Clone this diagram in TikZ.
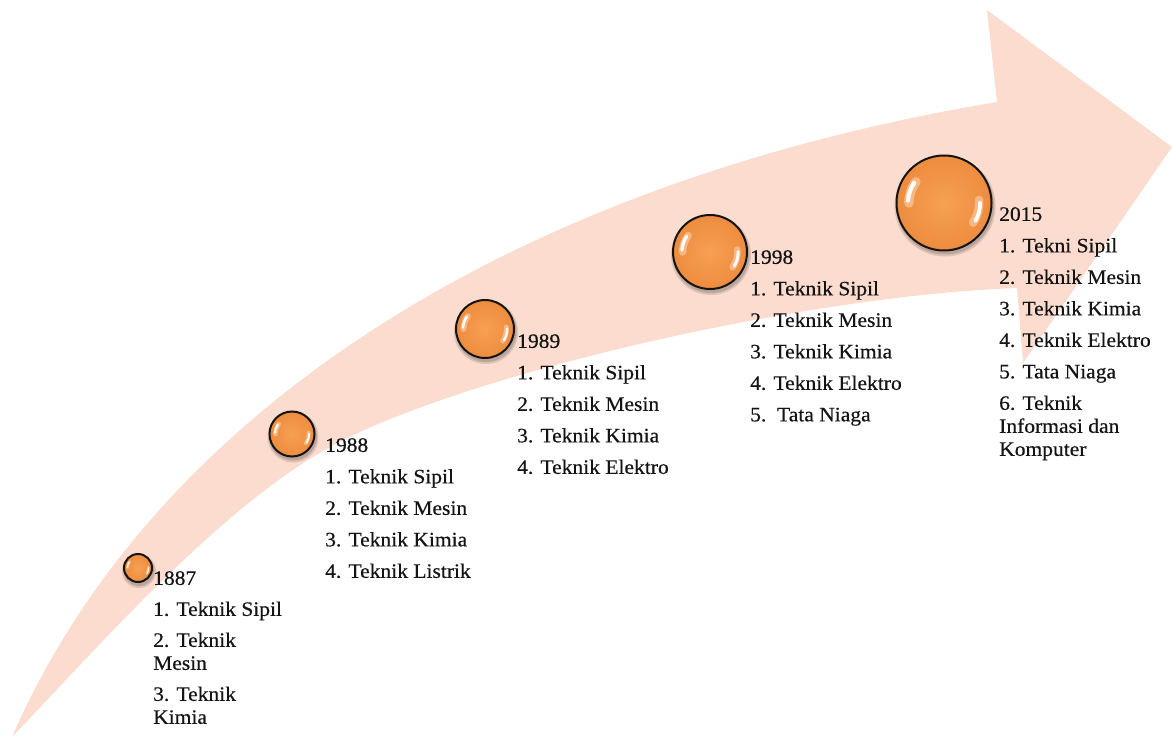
\documentclass[tikz,border=0pt]{standalone}
\usepackage{fontspec}
\setmainfont{Liberation Serif}[FakeStretch=1.05, FakeBold=0.5]
\definecolor{band}{RGB}{251,220,207}
\definecolor{orangein}{RGB}{246,160,84}
\definecolor{orangeout}{RGB}{238,140,62}
\definecolor{ink}{RGB}{20,20,20}
\tikzset{
  bubble/.style={circle, inner sep=0pt, draw=ink, line width=2pt, shading=radial, inner color=orangein, outer color=orangeout},
  gloss/.style={white, line cap=round},
  listtext/.style={font=\fontsize{20.5}{23}\selectfont, align=left, anchor=north west, inner sep=0pt, text=ink}
}
\begin{document}
\begin{tikzpicture}[x=1pt,y=-1pt]
\useasboundingbox (0,0) rectangle (1172,738);
% curved arrow
\fill[band] (12,737) .. controls (150,420) and (500,185) .. (997,102)
  -- (987,10) -- (1172,147) -- (1023,363) -- (1017,288)
  .. controls (800,296) and (460,375.5) .. (330,447)
  .. controls (220,507.5) and (100,645) .. (12,737) -- cycle;
% bubbles
\foreach \n/\x/\y/\r in {1887/138/568/14, 1988/292/434/22.5, 1989/485/329/29, 1998/710/252/37, 2015/944/203/47.5} {
  \fill[black, opacity=0.12] (\x+1,\y+3) circle (\r+3);
  \fill[black, opacity=0.15] (\x+1,\y+2.5) circle (\r+1.5);
  \node[bubble, minimum size=2*\r pt] (b\n) at (\x,\y) {};
  \draw[gloss, opacity=0.35, line width=0.2*\r pt] ([shift={(-143:0.74*\r)}]b\n.center) arc (-143:-180:0.74*\r);
  \draw[gloss, opacity=0.95, line width=0.09*\r pt] ([shift={(-146:0.76*\r)}]b\n.center) arc (-146:-176:0.76*\r);
  \draw[gloss, opacity=0.35, line width=0.18*\r pt] ([shift={(-5:0.74*\r)}]b\n.center) arc (-5:34:0.74*\r);
  \draw[gloss, opacity=0.95, line width=0.08*\r pt] ([shift={(-1:0.76*\r)}]b\n.center) arc (-1:30:0.76*\r);
}
% texts (north = baseline - 14)
\node[listtext] (t1887) at (153,571) {1887\\[8pt]1. Teknik Sipil\\[8pt]2. Teknik\\Mesin\\[8pt]3. Teknik\\Kimia};
\node[listtext] (t1988) at (325,438) {1988\\[8.5pt]1. Teknik Sipil\\[8.5pt]2. Teknik Mesin\\[8.5pt]3. Teknik Kimia\\[8.5pt]4. Teknik Listrik};
\node[listtext] (t1989) at (517,334) {1989\\[8.5pt]1. Teknik Sipil\\[8.5pt]2. Teknik Mesin\\[8.5pt]3. Teknik Kimia\\[8.5pt]4. Teknik Elektro};
\node[listtext] (t1998) at (750,250) {1998\\[8.5pt]1. Teknik Sipil\\[8.5pt]2. Teknik Mesin\\[8.5pt]3. Teknik Kimia\\[8.5pt]4. Teknik Elektro\\[8.5pt]5.\ \ Tata Niaga};
\node[listtext] (t2015) at (999,207) {2015\\[8.5pt]1. Tekni Sipil\\[8.5pt]2. Teknik Mesin\\[8.5pt]3. Teknik Kimia\\[8.5pt]4. Teknik Elektro\\[8.5pt]5. Tata Niaga\\[8.5pt]6. Teknik\\Informasi dan\\Komputer};
\end{tikzpicture}
\end{document}
